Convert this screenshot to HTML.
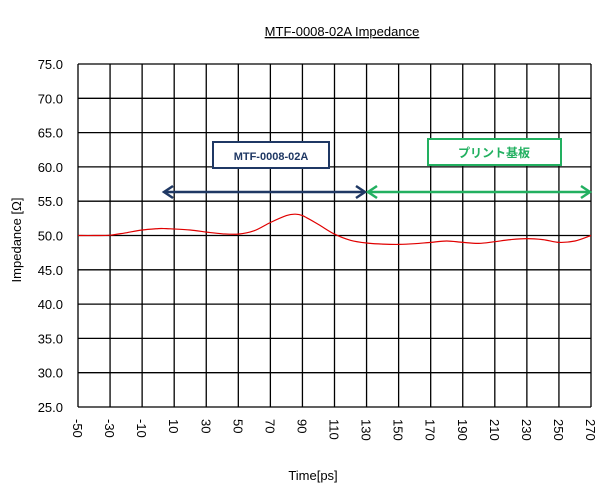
<!DOCTYPE html>
<html><head><meta charset="utf-8"><style>
body{margin:0;background:#fff;}
svg{display:block;font-family:"Liberation Sans","Noto Sans CJK JP",sans-serif;}
</style></head><body>
<svg id="c" width="616" height="491"></svg>
<script>
const times=[-50,-40,-30,-20,-10,0,5,10,20,30,40,50,60,70,80,85,90,100,110,120,130,140,150,160,170,180,190,200,210,220,230,240,250,260,270];
const impedance=[50.0,50.0,50.05,50.4,50.8,51.0,51.0,50.95,50.8,50.5,50.25,50.2,50.7,51.9,52.9,53.1,52.9,51.6,50.2,49.3,48.9,48.75,48.7,48.8,49.0,49.2,49.0,48.85,49.1,49.4,49.55,49.4,49.0,49.2,50.0];
const xTicks=[-50,-30,-10,10,30,50,70,90,110,130,150,170,190,210,230,250,270];
const yTicks=[25.0,30.0,35.0,40.0,45.0,50.0,55.0,60.0,65.0,70.0,75.0];
const L=78,R=591,T=64,B=407;
const xs=v=>L+(v+50)/320*(R-L);
const ys=v=>B-(v-25)/50*(B-T);
const svg=document.getElementById('c');
const NS='http://www.w3.org/2000/svg';
function mk(tag,attrs,parent){const e=document.createElementNS(NS,tag);for(const k in attrs)e.setAttribute(k,attrs[k]);(parent||svg).appendChild(e);return e;}
const grid=mk('g',{});


yTicks.forEach(v=>{
  const l=mk('line',{x1:L,x2:R,y1:ys(v),y2:ys(v),stroke:'#000','stroke-width':1.3},grid);
  
  
  const t=mk('text',{x:L-15,y:ys(v)+5,'text-anchor':'end','font-size':13,fill:'#000'});
  
  
  t.textContent=v.toFixed(1);
});
xTicks.forEach(v=>{
  const l=mk('line',{x1:xs(v),x2:xs(v),y1:T,y2:B,stroke:'#000','stroke-width':1.3},grid);
  
  
  const t=mk('text',{x:0,y:0,'font-size':13,fill:'#000',transform:`translate(${xs(v)-5},${B+12}) rotate(90)`});
  
  
  t.textContent=v;
});
const P=times.map((t,i)=>[xs(t),ys(impedance[i])]);
let d='M'+P[0][0].toFixed(1)+','+P[0][1].toFixed(1);
for(let i=0;i<P.length-1;i++){
  const p0=P[i-1]||P[i],p1=P[i],p2=P[i+1],p3=P[i+2]||P[i+1];
  const c1=[p1[0]+(p2[0]-p0[0])/6,p1[1]+(p2[1]-p0[1])/6];
  const c2=[p2[0]-(p3[0]-p1[0])/6,p2[1]-(p3[1]-p1[1])/6];
  d+=` C${c1[0].toFixed(1)},${c1[1].toFixed(1)} ${c2[0].toFixed(1)},${c2[1].toFixed(1)} ${p2[0].toFixed(1)},${p2[1].toFixed(1)}`;
}
const line=mk('path',{d:d,fill:'none',stroke:'#e00000','stroke-width':1.2});


</script>
<script>
(function(){
const svg=document.getElementById('c');
svg.insertAdjacentHTML('beforeend',`
<g stroke="#1f3864" stroke-width="2.5" fill="none">
<line x1="164" y1="192" x2="364" y2="192"/><polyline points="173,186 164,192 173,198"/><polyline points="356,186 365,192 356,198"/></g>
<g stroke="#22b060" stroke-width="2.5" fill="none">
<line x1="369" y1="192" x2="589" y2="192"/><polyline points="377,186 368,192 377,198"/><polyline points="581,186 590,192 581,198"/></g>
<rect x="213" y="142" width="116" height="26" fill="#fff" stroke="#1f3864" stroke-width="2"/>
<text x="271" y="160" text-anchor="middle" font-size="11" font-weight="bold" fill="#1f3864">MTF-0008-02A</text>
<rect x="428" y="139" width="133" height="26" fill="#fff" stroke="#22b060" stroke-width="2"/>
<text x="494" y="157" text-anchor="middle" font-size="12" font-weight="bold" fill="#22b060">プリント基板</text>
<text x="342" y="36" text-anchor="middle" font-size="13" text-decoration="underline" fill="#000">MTF-0008-02A Impedance</text>
<text transform="translate(21,240) rotate(-90)" text-anchor="middle" font-size="13" fill="#000">Impedance [Ω]</text>
<text x="313" y="480" text-anchor="middle" font-size="13" fill="#000">Time[ps]</text>
`);
})();
</script>
</body></html>
